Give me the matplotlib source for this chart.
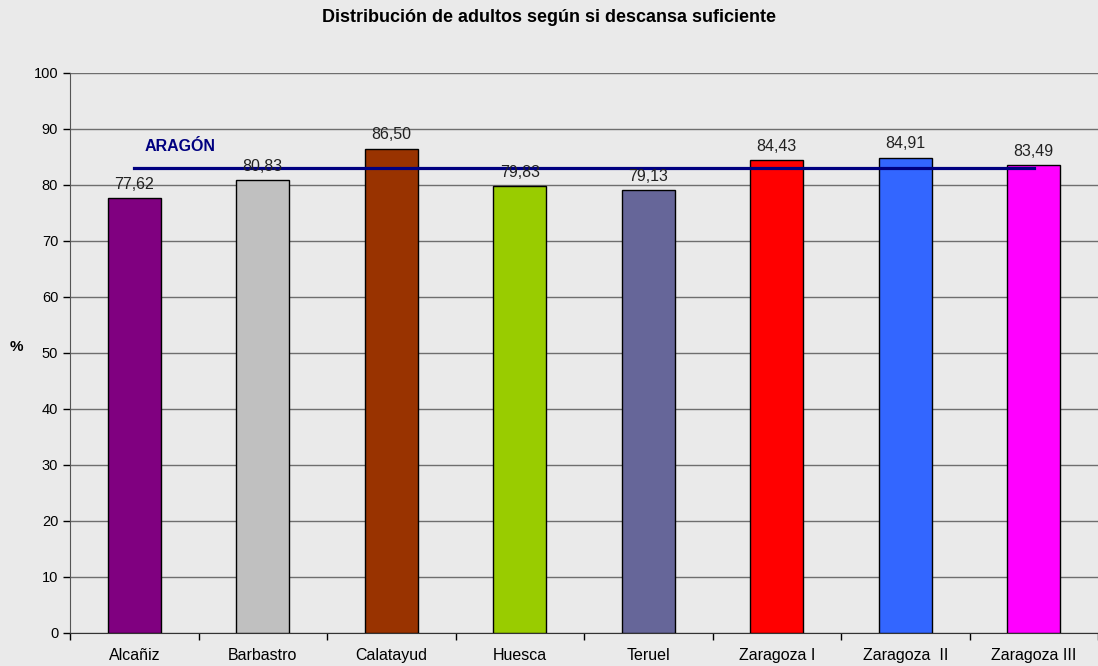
import matplotlib
matplotlib.use("Agg")
import matplotlib.pyplot as plt
import numpy as np

categories = ["Alcañiz", "Barbastro", "Calatayud", "Huesca", "Teruel",
              "Zaragoza I", "Zaragoza  II", "Zaragoza III"]
values = [77.62, 80.83, 86.50, 79.83, 79.13, 84.43, 84.91, 83.49]
aragon = 83.1
colors = ["#800080", "#C0C0C0", "#993300", "#99CC00", "#666699",
          "#FF0000", "#3366FF", "#FF00FF"]
yticks = list(range(0, 101, 10))

plt.rcParams['font.family'] = ['Liberation Sans', 'DejaVu Sans']

fig = plt.figure(figsize=(10.98, 6.66), dpi=100)
fig.patch.set_facecolor("#EAEAEA")
ax = fig.add_axes([70/1098, 33/666, 1 - 70/1098, (633-73)/666])
ax.set_facecolor("#EAEAEA")

x = np.arange(len(categories)) + 0.5
ax.bar(x, values, width=0.41, color=colors, edgecolor="black", linewidth=1, zorder=3)
for xi, v in zip(x, values):
    ax.text(xi, v + 1.1, f"{v:.2f}".replace(".", ","), ha="center", va="bottom",
            fontsize=11.5, color="#222222", zorder=5)

ax.plot([x[0], x[-1]], [aragon, aragon], color="#000080", linewidth=2.3, zorder=4)
ax.text(0.58, 85.6, "ARAGÓN", color="#000080", fontweight="bold", fontsize=11.5,
        ha="left", va="bottom", zorder=5)

ax.set_xlim(0, len(categories))
ax.set_ylim(0, 100)
ax.set_yticks(yticks)
ax.set_yticklabels([str(t) for t in yticks], fontsize=10.5)
ax.set_xticks(np.arange(len(categories) + 1))
ax.set_xticklabels([])
ax.set_xticks(x, minor=True)
ax.set_xticklabels(categories, minor=True, fontsize=11.5)
ax.tick_params(axis="x", which="minor", length=0, pad=11)
ax.tick_params(axis="x", which="major", length=5, direction="out", width=1)
ax.tick_params(axis="y", length=5, direction="out", width=1)
ax.yaxis.grid(True, color="#6E6E6E", linewidth=1, zorder=0)
ax.set_axisbelow(True)
for s in ["top", "right"]:
    ax.spines[s].set_visible(False)
ax.spines["left"].set_color("#555555")
ax.spines["bottom"].set_color("#333333")

fig.text(16/1098, 1 - 347/666, "%", fontweight="bold", fontsize=11, ha="center", va="center")
fig.text(0.5, 1 - 18/666, "Distribución de adultos según si descansa suficiente",
         fontweight="bold", fontsize=13, ha="center", va="center")

fig.savefig("out.png", dpi=100, facecolor=fig.get_facecolor())
